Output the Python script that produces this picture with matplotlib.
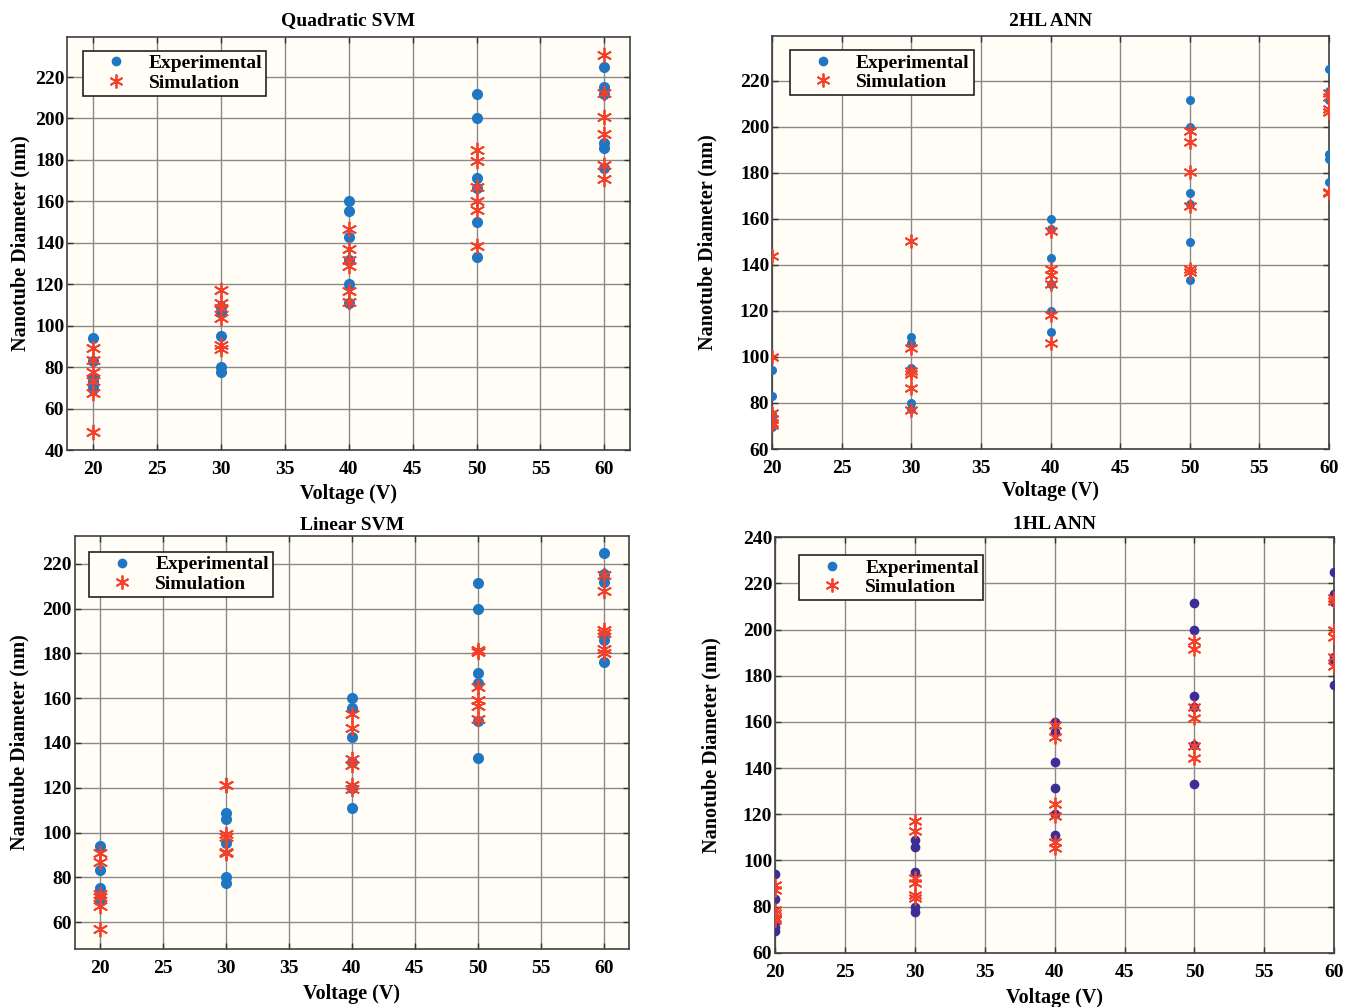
import matplotlib
matplotlib.use('Agg')

import numpy as np
import matplotlib.pyplot as plt
from matplotlib.lines import Line2D

plt.rcParams['font.family'] = ['Liberation Serif', 'DejaVu Serif']
plt.rcParams['font.weight'] = 'bold'

# voltage groups
volts = [20, 30, 40, 50, 60]

# experimental diameters (same in every panel)
exp_20 = [94.2, 83.2, 75.2, 73.4, 71.3, 69.5]
exp_30 = [108.8, 106.0, 95.1, 80.0, 77.5]
exp_40 = [160.0, 155.5, 142.8, 131.5, 120.0, 111.0]
exp_50 = [211.6, 200.0, 171.4, 166.6, 150.0, 133.2]
exp_60 = [225.0, 215.3, 211.8, 188.2, 185.8, 176.0]

# simulation diameters per model
quad_20 = [89.0, 83.5, 77.5, 73.5, 67.5, 48.8]
quad_30 = [117.3, 110.8, 108.6, 103.8, 90.7, 88.8]
quad_40 = [146.8, 137.0, 131.5, 129.0, 116.6, 111.3]
quad_50 = [184.6, 179.3, 167.0, 160.4, 155.6, 138.7]
quad_60 = [230.5, 212.3, 200.7, 192.7, 177.7, 170.9]

ann2_20 = [143.8, 100.0, 75.6, 73.0, 71.5, 70.5]
ann2_30 = [150.3, 103.9, 94.0, 92.5, 86.4, 77.0]
ann2_40 = [154.7, 138.0, 135.8, 131.5, 118.4, 106.0]
ann2_50 = [198.3, 193.5, 180.4, 165.6, 138.3, 136.8]
ann2_60 = [214.5, 213.0, 207.5, 206.5, 171.5, 171.0]

lin_20 = [91.0, 87.0, 72.5, 71.0, 67.0, 57.0]
lin_30 = [121.3, 121.0, 99.5, 98.0, 91.5, 91.0]
lin_40 = [153.0, 146.7, 133.0, 130.0, 121.0, 119.5]
lin_50 = [181.5, 180.5, 165.0, 159.0, 156.5, 150.5]
lin_60 = [215.0, 208.0, 190.5, 189.0, 182.0, 180.0]

ann1_20 = [89.3, 87.2, 78.5, 77.0, 75.0, 74.0]
ann1_30 = [117.2, 112.9, 92.2, 90.1, 85.0, 83.6]
ann1_40 = [158.7, 153.6, 124.3, 119.4, 108.0, 105.5]
ann1_50 = [195.0, 191.6, 166.6, 161.8, 149.6, 144.2]
ann1_60 = [213.5, 212.5, 199.8, 196.6, 188.0, 184.2]

BLUE = '#1f77c4'
NAVY = '#3b2f97'
RED = '#f2402a'
BG = '#fffdf6'
STAR = (6, 2, 0)


def flatten(groups):
    xs, ys = [], []
    for v, g in zip(volts, groups):
        xs += [v] * len(g)
        ys += list(g)
    return np.array(xs), np.array(ys)


def draw_panel(fig, rect, title, sim_groups, xlim, ylim, yticks, leg_xy,
               dot_color, dot_size, star_size, title_pad, ylab_pad, xlab_pad):
    ax = fig.add_axes(rect)
    ax.set_facecolor(BG)

    ex, ey = flatten([exp_20, exp_30, exp_40, exp_50, exp_60])
    sx, sy = flatten(sim_groups)
    ax.plot(ex, ey, 'o', color=dot_color, markersize=dot_size, markeredgewidth=0, zorder=3)
    ax.plot(sx, sy, linestyle='none', marker=STAR, color=RED, markersize=star_size,
            markeredgewidth=1.3, zorder=4)

    ax.set_xlim(*xlim)
    ax.set_ylim(*ylim)
    ax.set_xticks(np.arange(20, 61, 5))
    ax.set_yticks(yticks)
    ax.grid(True, color='#8a8a8a', linewidth=1.0)
    ax.set_axisbelow(True)
    ax.tick_params(direction='in', length=4, width=1, top=True, right=True,
                   labelsize=14, colors='#333333', labelcolor='black')
    ax.tick_params(axis='x', pad=8)
    ax.tick_params(axis='y', pad=2)
    for lab in ax.get_xticklabels() + ax.get_yticklabels():
        lab.set_fontweight('bold')
    for sp in ax.spines.values():
        sp.set_color('#404040')
        sp.set_linewidth(1.2)

    ax.set_title(title, fontsize=14, fontweight='bold', pad=title_pad)
    ax.set_xlabel('Voltage (V)', fontsize=14.5, fontweight='bold', labelpad=xlab_pad)
    ax.set_ylabel('Nanotube Diameter (nm)', fontsize=14.5, fontweight='bold', labelpad=ylab_pad)

    handles = [
        Line2D([], [], linestyle='none', marker='o', color=BLUE, markersize=7, markeredgewidth=0),
        Line2D([], [], linestyle='none', marker=STAR, color=RED, markersize=10, markeredgewidth=1.3),
    ]
    leg = ax.legend(handles, ['Experimental', 'Simulation'], loc='upper left',
                    bbox_to_anchor=leg_xy, borderaxespad=0, fancybox=False,
                    framealpha=1, edgecolor='#222222', handlelength=3.0,
                    handletextpad=0.2, borderpad=0.2, labelspacing=0.1,
                    prop={'size': 14, 'weight': 'bold'})
    leg.get_frame().set_linewidth(1.2)
    leg.get_frame().set_facecolor(BG)
    return ax


fig = plt.figure(figsize=(13.46, 10.07), dpi=100)

draw_panel(fig, [0.0498, 0.5531, 0.4183, 0.4101], 'Quadratic SVM',
           [quad_20, quad_30, quad_40, quad_50, quad_60],
           (18, 62), (40, 239.3), np.arange(40, 221, 20), (0.028, 0.967), BLUE, 8, 11, 9, 3, 4)

draw_panel(fig, [0.5736, 0.5541, 0.4138, 0.4104], '2HL ANN',
           [ann2_20, ann2_30, ann2_40, ann2_50, ann2_60],
           (20, 60), (60, 239.5), np.arange(60, 221, 20), (0.032, 0.965), BLUE, 6.5, 10, 7, 16, 3)

draw_panel(fig, [0.0555, 0.0576, 0.4120, 0.4104], 'Linear SVM',
           [lin_20, lin_30, lin_40, lin_50, lin_60],
           (18, 62), (48, 232.5), np.arange(60, 221, 20), (0.026, 0.961), BLUE, 8, 11, 4, 9, 5)

draw_panel(fig, [0.5758, 0.0539, 0.4155, 0.4125], '1HL ANN',
           [ann1_20, ann1_30, ann1_40, ann1_50, ann1_60],
           (20, 60), (60, 240), np.arange(60, 241, 20), (0.043, 0.957), NAVY, 7, 10, 6, 15, 5)

fig.savefig('out.png', dpi=100, facecolor='white')
plt.close(fig)
